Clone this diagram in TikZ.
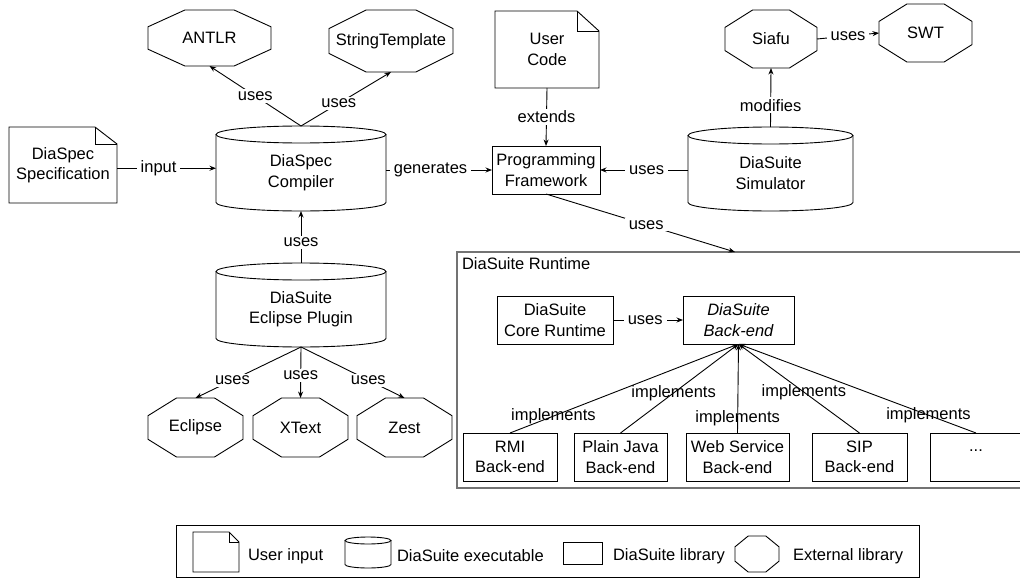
\documentclass[tikz,border=0pt]{standalone}
\usepackage{fontspec}
\setmainfont{Liberation Sans}
\usetikzlibrary{calc,arrows.meta}
\newcommand\mfont{\fontsize{16.5}{20.5}\selectfont}
% octagon outline around a (rectangular, undrawn) node
\newcommand\octo[1]{%
  \draw[ln] ($(#1.north west)!0.3!(#1.north east)$) -- ($(#1.north west)!0.7!(#1.north east)$)
    -- ($(#1.north east)!0.3!(#1.south east)$) -- ($(#1.north east)!0.7!(#1.south east)$)
    -- ($(#1.south west)!0.7!(#1.south east)$) -- ($(#1.south west)!0.3!(#1.south east)$)
    -- ($(#1.north west)!0.7!(#1.south west)$) -- ($(#1.north west)!0.3!(#1.south west)$) -- cycle;}
% document outline with folded corner
\newcommand\docu[3]{%
  \draw[ln] (#1.south west) -- (#1.north west) -- ([xshift=-#2]#1.north east)
    -- ([yshift=-#3]#1.north east) -- (#1.south east) -- cycle;
  \draw[ln] ([xshift=-#2]#1.north east) -- ([xshift=-#2,yshift=-#3]#1.north east) -- ([yshift=-#3]#1.north east);}
% cylinder outline: node spans from the top ellipse centre line to the bottom of the base arc
\newcommand\cyl[3]{%
  \draw[ln] (#1.north west) -- ([yshift=#3]#1.south west)
    arc[start angle=180, end angle=360, x radius=#2, y radius=#3] -- (#1.north east);
  \draw[ln] (#1.north) ellipse[x radius=#2, y radius=#3];}
\begin{document}
\begin{tikzpicture}[x=1pt,y=-1pt,
  ln/.style={line width=0.9pt},
  base/.style={inner sep=0pt, outer sep=0pt, align=center, font=\mfont},
  rbox/.style={base, draw, line width=0.9pt},
  arr/.style={ln, -{Stealth[length=6.5pt,width=5pt]}},
  lbl/.style={font=\mfont, fill=white, inner xsep=4pt, inner ysep=2pt},
  ilbl/.style={font=\mfont, inner sep=0pt},
]
\useasboundingbox (0,0) rectangle (1020,578);
\clip (0,0) rectangle (1020,578);

% ---------- upper part ----------
\node[base, minimum width=123pt, minimum height=56pt] (antlr) at (209.5,38) {ANTLR};
\node[base, minimum width=124pt, minimum height=62pt] (st) at (391,41) {StringTemplate};
\node[base, minimum width=108pt, minimum height=76pt] (spec) at (63,165) {DiaSpec\\Specification};
\node[base, minimum width=170pt, minimum height=76.5pt] (comp) at (301,172.75) {DiaSpec\\Compiler};
\node[rbox, minimum width=108pt, minimum height=48pt] (pf) at (546,170) {Programming\\Framework};
\node[base, minimum width=104pt, minimum height=77pt] (uc) at (547,49.5) {User\\Code};
\node[base, minimum width=165pt, minimum height=75.5pt] (sim) at (770.5,173.25) {DiaSuite\\Simulator};
\node[base, minimum width=92pt, minimum height=58pt] (siafu) at (771,39) {Siafu};
\node[base, minimum width=93pt, minimum height=58pt] (swt) at (925.5,33) {SWT};
\node[base, minimum width=170pt, minimum height=75.5pt] (plug) at (301,309.25) {DiaSuite\\Eclipse Plugin};
\node[base, minimum width=95pt, minimum height=59pt] (eclipse) at (195.5,427.5) {Eclipse};
\node[base, minimum width=95pt, minimum height=59pt] (xtext) at (300.5,427.5) {XText};
\node[base, minimum width=95pt, minimum height=59pt] (zest) at (404.5,427.5) {Zest};

\octo{antlr}\octo{st}\octo{siafu}\octo{swt}\octo{eclipse}\octo{xtext}\octo{zest}
\docu{spec}{22pt}{17pt}
\docu{uc}{22pt}{20pt}
\cyl{comp}{85pt}{8.5pt}
\cyl{sim}{82.5pt}{8.5pt}
\cyl{plug}{85pt}{8.5pt}

% ---------- runtime ----------
\node[base, draw=black!55, line width=1.6pt, minimum width=600pt, minimum height=236pt, anchor=north west] (rt) at (457,252) {};
\node[base, anchor=west] (rtlbl) at (462,264) {DiaSuite Runtime};
\coordinate (rtin) at (735,252);

\node[rbox, minimum width=116pt, minimum height=48pt] (core) at (555,320) {DiaSuite\\Core Runtime};
\node[rbox, minimum width=111pt, minimum height=48pt, font=\mfont\itshape] (be) at (738.5,320) {DiaSuite\\Back-end};
\node[rbox, minimum width=94pt, minimum height=48pt] (rmi) at (510,457) {RMI\\Back-end};
\node[rbox, minimum width=93pt, minimum height=48pt] (pj) at (620.5,457) {Plain Java\\Back-end};
\node[rbox, minimum width=103pt, minimum height=48pt] (ws) at (737.5,457) {Web Service\\Back-end};
\node[rbox, minimum width=95pt, minimum height=48pt] (sip) at (859.5,457) {SIP\\Back-end};
\node[rbox, minimum width=92pt, minimum height=48pt] (more) at (976,457) {\raisebox{12pt}{...}};

% ---------- connectors ----------
\coordinate (compL) at ([yshift=4.5pt]comp.west);
\draw[arr] (compL -| spec.east) -- node[lbl, pos=0.42] {input} (compL);
\draw[arr] ([yshift=8.5pt]comp.north) -- node[lbl, pos=0.5] {uses} (antlr.south);
\draw[arr] ([yshift=8.5pt]comp.north) -- node[lbl, pos=0.42] {uses} (st.south);
\draw[arr] (pf.west -| comp.east) -- node[lbl, pos=0.42] {generates} (pf.west);
\draw[arr] ([yshift=8.5pt]plug.north) -- node[lbl, pos=0.4] {uses} (comp.south);
\draw[arr] (plug.south) -- node[lbl, pos=0.65] {uses} (eclipse.north);
\draw[arr] (plug.south) -- node[lbl, pos=0.55] {uses} (xtext.north);
\draw[arr] (plug.south) -- node[lbl, pos=0.65] {uses} (zest.north);
\draw[arr] (uc.south) -- node[lbl] {extends} (pf.north);
\draw[arr] (pf.east -| sim.west) -- node[lbl, pos=0.47] {uses} (pf.east);
\draw[arr] ([yshift=8.5pt]sim.north) -- node[lbl, pos=0.37] {modifies} (siafu.south);
\draw[arr] (siafu.east) -- node[lbl] {uses} (swt.west);
\draw[arr] (pf.south) -- node[lbl, pos=0.53] {uses} (rtin);
\draw[arr] (core.east) -- node[lbl, pos=0.46] {uses} (be.west);
\draw[arr] (rmi.north) -- node[ilbl, pos=0.19] {implements} (be.south);
\draw[arr] (pj.north) -- node[ilbl, pos=0.45] {implements} (be.south);
\draw[arr] (ws.north) -- node[ilbl, pos=0.17] {implements} (be.south);
\draw[arr] (sip.north) -- node[ilbl, pos=0.46] {implements} (be.south);
\draw[arr] (more.north) -- node[ilbl, pos=0.2] {implements} (be.south);

% ---------- legend ----------
\node[base, draw, line width=0.9pt, minimum width=743pt, minimum height=52pt] (legend) at (547.5,551) {};
\node[base, minimum width=46pt, minimum height=40pt] (lgdoc) at (216,552) {};
\node[base, anchor=west] (lgt1) at (248,556) {User input};
\node[base, minimum width=46pt, minimum height=27.5pt] (lgcyl) at (368,554.25) {};
\node[base, anchor=west] (lgt2) at (397,556) {DiaSuite executable};
\node[rbox, minimum width=39pt, minimum height=22pt] (lgrect) at (582.5,553) {};
\node[base, anchor=west] (lgt3) at (613,556) {DiaSuite library};
\node[base, minimum width=44pt, minimum height=36pt] (lgoct) at (757,554) {};
\node[base, anchor=west] (lgt4) at (793,556) {External library};
\docu{lgdoc}{10pt}{10pt}
\cyl{lgcyl}{23pt}{3.5pt}
\octo{lgoct}
\end{tikzpicture}
\end{document}
